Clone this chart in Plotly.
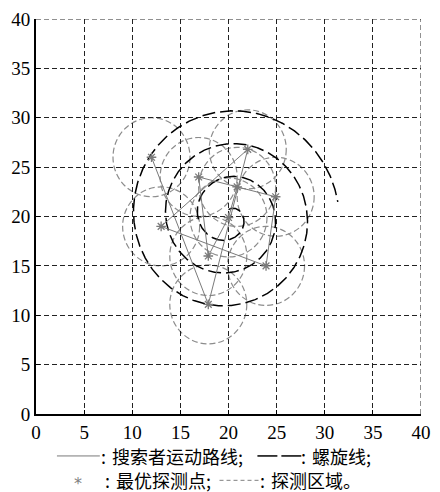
import numpy as np
import plotly.graph_objects as go

# ---- data ----
# optimal detection points, in search order
path_x = [12.0, 17.9, 22.0, 13.0, 23.9, 24.9, 16.9, 17.9, 20.0, 20.9]
path_y = [26.0, 11.1, 26.8, 19.0, 15.0, 22.0, 24.0, 16.0, 19.9, 23.0]
detect_radius = 4.0

# spiral (Archimedean, clockwise outward)
spiral_cx, spiral_cy = 20.0, 20.0
spiral_r0 = 0.7          # radius at start (top)
spiral_pitch = 3.33      # radial growth per turn
spiral_end_phi = 6.5 * np.pi - 0.13

tick_vals = [0, 5, 10, 15, 20, 25, 30, 35, 40]
tick_text = ["0", "5", "10", "15", "20", "25", "30", "35", "40"]

legend_texts = [":\u2004搜索者运动路线;", ":\u2004螺旋线;", ":\u2004最优探测点;", ":\u2004探测区域。"]

GRAY = "#808080"
GRAY_LINE = "#7a7a7a"
GRID = "#222222"
GRID_DASH = "5px,3px"

fig = go.Figure()

# detection regions (dashed circles around each point)
for cx, cy in zip(path_x, path_y):
    fig.add_shape(type="circle", xref="x", yref="y",
                  x0=cx - detect_radius, x1=cx + detect_radius,
                  y0=cy - detect_radius, y1=cy + detect_radius,
                  line=dict(color="#8c8c8c", width=1.2, dash="6px,3px"),
                  layer="below")

# grid lines at the upper/right edges (plotly omits them at the range end)
fig.add_shape(type="line", xref="x", yref="y", x0=0, x1=40, y0=40, y1=40,
              line=dict(color=GRID, width=1, dash=GRID_DASH), layer="below")
fig.add_shape(type="line", xref="x", yref="y", x0=40, x1=40, y0=0, y1=40,
              line=dict(color=GRID, width=1, dash=GRID_DASH), layer="below")

# spiral
phi = np.linspace(0, spiral_end_phi, 1500)
b = spiral_pitch / (2 * np.pi)
r = spiral_r0 + b * phi
sx = spiral_cx + r * np.sin(phi)
sy = spiral_cy + r * np.cos(phi)
fig.add_trace(go.Scatter(x=sx, y=sy, mode="lines",
                         line=dict(color="black", width=1.5, dash="13px,5px"),
                         hoverinfo="skip", showlegend=False))

# search path
fig.add_trace(go.Scatter(x=path_x, y=path_y, mode="lines+markers",
                         line=dict(color=GRAY_LINE, width=1),
                         marker=dict(symbol="asterisk-open", size=8,
                                     line=dict(color=GRAY_LINE, width=1.3)),
                         showlegend=False))

axis_common = dict(range=[0, 40], tickvals=tick_vals, ticktext=tick_text,
                   showgrid=True, gridcolor=GRID, griddash=GRID_DASH, gridwidth=1,
                   zeroline=False, showline=True, linecolor="black", linewidth=2,
                   ticks="inside", ticklen=4, tickcolor="black",
                   ticklabeloverflow="allow",
                   tickfont=dict(family="Liberation Serif", size=19, color="black"),
                   fixedrange=True)

fig.update_xaxes(**axis_common)
fig.update_yaxes(**axis_common)

# custom legend (two rows below the plot)
W, H = 440, 492
ml, mr, mt, mb = 36, 18, 9, 78
pw, ph = W - ml - mr, H - mt - mb

def px(xp):
    return (xp - ml) / pw

def py(yp):
    return (mt + ph - yp) / ph

legend_font = dict(family="Noto Sans CJK SC", size=18, color="black")
row1, row2 = 457, 482

# row 1
fig.add_shape(type="line", xref="paper", yref="paper",
              x0=px(57), x1=px(100), y0=py(row1), y1=py(row1),
              line=dict(color=GRAY_LINE, width=1))
fig.add_annotation(xref="paper", yref="paper", x=px(100), y=py(row1),
                   text=legend_texts[0], showarrow=False, borderpad=0,
                   xanchor="left", yanchor="middle", font=legend_font)
fig.add_shape(type="line", xref="paper", yref="paper",
              x0=px(258), x1=px(278), y0=py(row1), y1=py(row1),
              line=dict(color="black", width=1.5))
fig.add_shape(type="line", xref="paper", yref="paper",
              x0=px(282), x1=px(302), y0=py(row1), y1=py(row1),
              line=dict(color="black", width=1.5))
fig.add_annotation(xref="paper", yref="paper", x=px(301), y=py(row1),
                   text=legend_texts[1], showarrow=False, borderpad=0,
                   xanchor="left", yanchor="middle", font=legend_font)

# row 2
fig.add_annotation(xref="paper", yref="paper", x=px(78), y=py(row2),
                   text="*", showarrow=False, yshift=-3, borderpad=0,
                   xanchor="center", yanchor="middle",
                   font=dict(family="DejaVu Sans", size=16, color=GRAY))
fig.add_annotation(xref="paper", yref="paper", x=px(104), y=py(row2),
                   text=legend_texts[2], showarrow=False, borderpad=0,
                   xanchor="left", yanchor="middle", font=legend_font)
fig.add_shape(type="line", xref="paper", yref="paper",
              x0=px(220), x1=px(260), y0=py(row2), y1=py(row2),
              line=dict(color=GRAY, width=1, dash="4px,3px"))
fig.add_annotation(xref="paper", yref="paper", x=px(260), y=py(row2),
                   text=legend_texts[3], showarrow=False, borderpad=0,
                   xanchor="left", yanchor="middle", font=legend_font)

fig.update_layout(width=W, height=H,
                  margin=dict(l=ml, r=mr, t=mt, b=mb, pad=0),
                  plot_bgcolor="white", paper_bgcolor="white",
                  showlegend=False)

fig.write_html("out.html", config={"displayModeBar": False},
               post_script="document.body.style.margin='0';document.body.style.padding='0';")
